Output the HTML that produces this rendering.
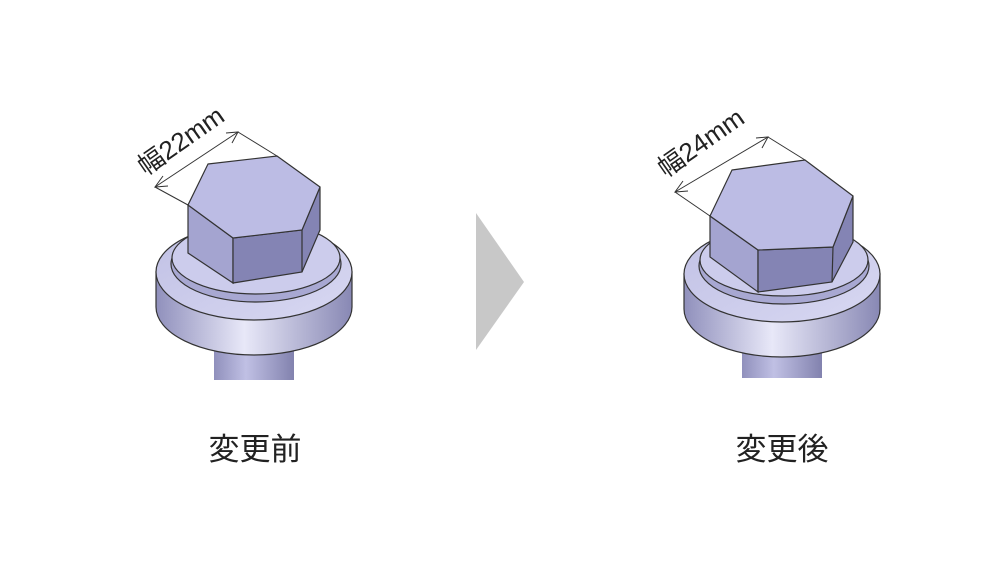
<!DOCTYPE html>
<html><head><meta charset="utf-8"><style>
html,body{margin:0;padding:0;background:#fff;}
svg{display:block}
</style></head><body>
<svg width="1000" height="563" viewBox="0 0 1000 563" xmlns="http://www.w3.org/2000/svg">
<defs>
<linearGradient id="shaft" x1="0" x2="1" y1="0" y2="0">
<stop offset="0" stop-color="#9090bc"/><stop offset="0.4" stop-color="#c0c0e4"/><stop offset="1" stop-color="#8282ae"/>
</linearGradient>
<linearGradient id="side" x1="0" x2="1" y1="0" y2="0">
<stop offset="0" stop-color="#9090bc"/><stop offset="0.45" stop-color="#e8e8f8"/><stop offset="1" stop-color="#8888b4"/>
</linearGradient>
<linearGradient id="top" x1="0" x2="1" y1="0" y2="1">
<stop offset="0" stop-color="#c0c0e4"/><stop offset="1" stop-color="#d8d8f2"/>
</linearGradient>
</defs>
<g stroke="#333" stroke-width="1.2">
<!-- LEFT -->
<rect x="214" y="320" width="80" height="60" fill="url(#shaft)" stroke="none"/>
<path d="M156,272 L156,307 A98,48 0 0 0 352,307 L352,272 Z" fill="url(#side)"/>
<ellipse cx="254" cy="272" rx="98" ry="48" fill="url(#top)"/>
<ellipse cx="256" cy="264" rx="85" ry="38" fill="#a8a8d2"/>
<ellipse cx="256" cy="258" rx="84" ry="36" fill="#ccccec"/>
<polygon points="188,205 233,238 233,283 188,253" fill="#a4a4d0"/>
<polygon points="233,238 302,230 320,187 320,230 302,272 233,283" fill="#8484b4"/>
<polygon points="208,164 277,156 320,187 302,230 233,238 188,205" fill="#bcbce4"/>
<line x1="302" y1="230" x2="302" y2="272"/>
<g stroke-width="1" fill="none">
<line x1="155" y1="187" x2="188" y2="205"/>
<line x1="238" y1="132" x2="277" y2="156"/>
<line x1="155" y1="187" x2="238" y2="132"/>
<polyline points="163,176 155,187 168,186"/>
<polyline points="226,133 238,132 232,143"/>
</g>
<!-- RIGHT -->
<rect x="742" y="320" width="80" height="58" fill="url(#shaft)" stroke="none"/>
<path d="M684,274 L684,309 A98,48 0 0 0 880,309 L880,274 Z" fill="url(#side)"/>
<ellipse cx="782" cy="274" rx="98" ry="48" fill="url(#top)"/>
<ellipse cx="784" cy="266" rx="85" ry="38" fill="#a8a8d2"/>
<ellipse cx="784" cy="260" rx="84" ry="36" fill="#ccccec"/>
<polygon points="710,216 758,250 758,292 710,257" fill="#a4a4d0"/>
<polygon points="758,250 833,247 853,196 853,242 832,282 758,292" fill="#8484b4"/>
<polygon points="732,170 805,160 853,196 833,247 758,250 710,216" fill="#bcbce4"/>
<line x1="833" y1="247" x2="832" y2="282"/>
<g stroke-width="1" fill="none">
<line x1="675" y1="192" x2="710" y2="216"/>
<line x1="768" y1="137" x2="805" y2="160"/>
<line x1="675" y1="192" x2="768" y2="137"/>
<polyline points="683,181 675,192 688,191"/>
<polyline points="756,138 768,137 762,148"/>
</g>
</g>
<polygon points="476,213 524,282 476,350" fill="#c8c8c8"/>
<g font-family="Liberation Sans, Noto Sans CJK JP, sans-serif" fill="#222">
<text x="186" y="148" font-size="26" text-anchor="middle" transform="rotate(-35 186 148)">幅22mm</text>
<text x="706" y="150" font-size="26" text-anchor="middle" transform="rotate(-35 706 150)">幅24mm</text>
<text x="255" y="460" font-size="31" text-anchor="middle">変更前</text>
<text x="782" y="460" font-size="31" text-anchor="middle">変更後</text>
</g>
</svg>
</body></html>
